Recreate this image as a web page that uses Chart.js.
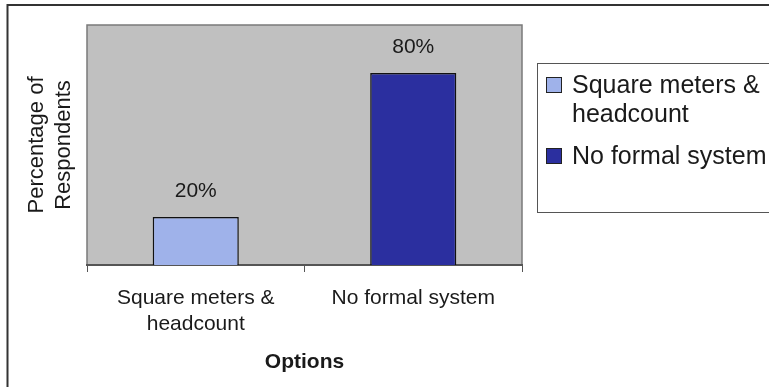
<!DOCTYPE html>
<html>
<head>
<meta charset="utf-8">
<script src="https://cdn.jsdelivr.net/npm/chart.js@4"></script>
<style>
  html, body { margin: 0; padding: 0; background: #fff; }
  canvas { display: block; }
</style>
</head>
<body>
<canvas id="c" width="769" height="387"></canvas>
<script>
// Survey answers: share of respondents per option
const categories = ["Square meters & headcount", "No formal system"];
const categoryLines = [["Square meters &", "headcount"], ["No formal system"]];
const percentages = [20, 80];
const barColors = ["#9fb2ea", "#2b2f9f"];
const yTitleLines = ["Percentage of", "Respondents"];
const xTitle = "Options";

const FONT = "'Liberation Sans', Arial, Helvetica, sans-serif";
const INK = "#1a1a1a";

// White page with the thin outer frame (top and left edges)
const framePlugin = {
  id: "frame",
  beforeDraw(chart) {
    const ctx = chart.ctx;
    ctx.save();
    ctx.fillStyle = "#ffffff";
    ctx.fillRect(0, 0, chart.width, chart.height);
    ctx.strokeStyle = "#333333";
    ctx.lineWidth = 2;
    ctx.beginPath();
    ctx.moveTo(chart.width, 5);
    ctx.lineTo(7.5, 5);
    ctx.lineTo(7.5, chart.height);
    ctx.stroke();
    ctx.restore();
  }
};

// Grey plot area with its outline
const plotAreaPlugin = {
  id: "plotArea",
  beforeDraw(chart) {
    const { ctx, chartArea: a } = chart;
    ctx.save();
    ctx.fillStyle = "#c0c0c0";
    ctx.fillRect(a.left, a.top, a.right - a.left, a.bottom - a.top);
    ctx.strokeStyle = "#7a7a7a";
    ctx.lineWidth = 1.5;
    ctx.beginPath();
    ctx.moveTo(a.left, a.bottom);
    ctx.lineTo(a.left, a.top);
    ctx.lineTo(a.right, a.top);
    ctx.lineTo(a.right, a.bottom);
    ctx.stroke();
    ctx.restore();
  }
};

// Percentage written above each bar
const valueLabelPlugin = {
  id: "valueLabels",
  afterDatasetsDraw(chart) {
    const ctx = chart.ctx;
    const meta = chart.getDatasetMeta(0);
    ctx.save();
    ctx.font = "21px " + FONT;
    ctx.fillStyle = INK;
    ctx.textAlign = "center";
    ctx.textBaseline = "middle";
    meta.data.forEach((bar, i) => {
      ctx.fillText(percentages[i] + "%", bar.x, bar.y - 26);
    });
    ctx.restore();
  }
};

// Boxed legend to the right of the plot, one entry per category
const boxLegendPlugin = {
  id: "boxLegend",
  afterDraw(chart) {
    const ctx = chart.ctx;
    const box = { x: 537.5, y: 63.5, w: 260, h: 149 };
    ctx.save();
    ctx.fillStyle = "#ffffff";
    ctx.fillRect(box.x, box.y, box.w, box.h);
    ctx.strokeStyle = "#555555";
    ctx.lineWidth = 1;
    ctx.strokeRect(box.x, box.y, box.w, box.h);

    ctx.font = "25px " + FONT;
    ctx.fillStyle = INK;
    ctx.textAlign = "left";
    ctx.textBaseline = "alphabetic";
    const lineGap = 29;
    const entryGap = 13;
    let baseline = 93;
    const colors = chart.data.datasets[0].backgroundColor;
    categoryLines.forEach((lines, i) => {
      ctx.fillStyle = colors[i];
      ctx.fillRect(546, baseline - 16, 15, 15);
      ctx.strokeStyle = "#222222";
      ctx.strokeRect(546.5, baseline - 15.5, 15, 15);
      ctx.fillStyle = INK;
      lines.forEach((t, k) => {
        ctx.fillText(t, 572, baseline + k * lineGap);
      });
      baseline += lines.length * lineGap + entryGap;
    });
    ctx.restore();
  }
};

new Chart(document.getElementById("c"), {
  type: "bar",
  data: {
    labels: categoryLines,
    datasets: [{
      label: "Percentage of Respondents",
      data: percentages,
      backgroundColor: barColors,
      borderColor: "#111111",
      borderWidth: 1.5,
      barPercentage: 0.396,
      categoryPercentage: 1.0
    }]
  },
  options: {
    responsive: false,
    animation: false,
    devicePixelRatio: 1,
    layout: { padding: { top: 25, right: 247, bottom: 0, left: 0 } },
    plugins: {
      legend: { display: false },
      tooltip: { enabled: false }
    },
    scales: {
      x: {
        ticks: {
          font: { family: FONT, size: 21, lineHeight: 1.25 },
          color: INK,
          padding: 13,
          maxRotation: 0,
          autoSkip: false
        },
        grid: {
          display: true,
          drawOnChartArea: false,
          drawTicks: true,
          tickLength: 7,
          color: "#555555",
          offset: true
        },
        border: { display: true, color: "#555555", width: 2 },
        title: {
          display: true,
          text: xTitle,
          font: { family: FONT, size: 21, weight: "bold" },
          color: INK,
          padding: { top: 0, bottom: 12 }
        },
        afterFit(scale) { scale.height = 122; }
      },
      y: {
        min: 0,
        max: 100,
        ticks: { display: false },
        grid: { display: false },
        border: { display: false },
        title: {
          display: true,
          text: yTitleLines,
          font: { family: FONT, size: 22 },
          color: INK,
          padding: { top: 24, bottom: 0 }
        },
        afterFit(scale) { scale.width = 87; }
      }
    }
  },
  plugins: [framePlugin, plotAreaPlugin, valueLabelPlugin, boxLegendPlugin]
});
</script>
</body>
</html>
